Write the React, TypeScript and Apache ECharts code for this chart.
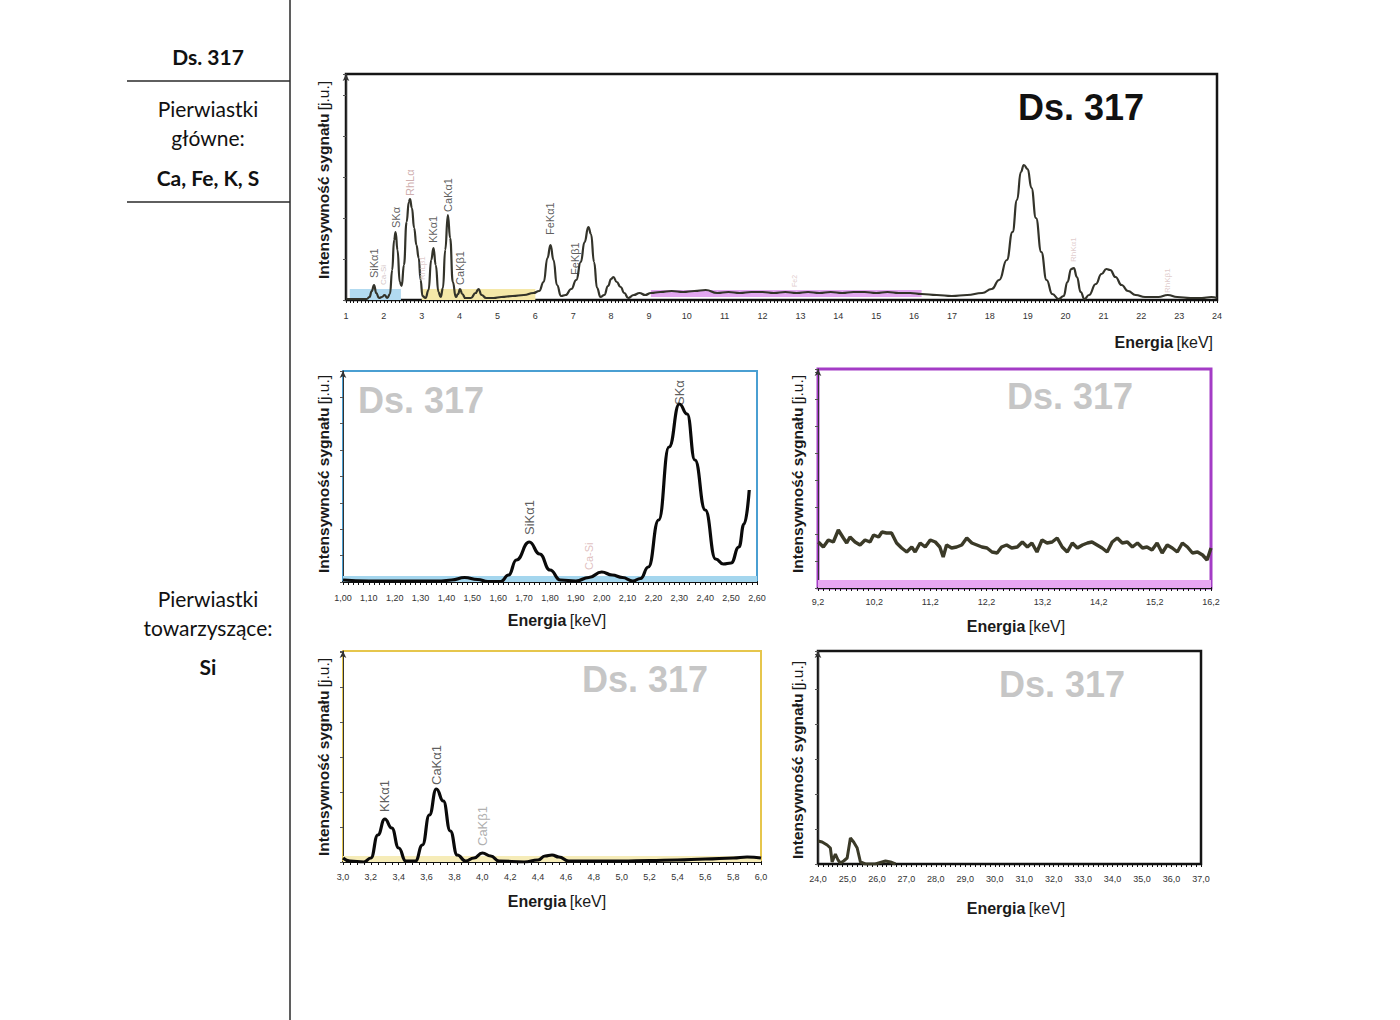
import React, { useEffect, useRef } from "react";
import * as echarts from "echarts";

// ---------- DATA ----------
const mainSpectrum: [number, number][] = [
  [1.0, 1], [1.3, 1], [1.55, 1], [1.62, 3], [1.68, 9], [1.74, 15], [1.8, 7], [1.87, 2], [1.95, 3], [2.02, 5],
  [2.09, 2], [2.16, 6], [2.22, 30], [2.27, 60], [2.31, 68], [2.36, 50], [2.42, 18], [2.47, 14], [2.53, 35],
  [2.6, 78], [2.66, 98], [2.69, 101], [2.74, 92], [2.8, 72], [2.86, 55], [2.92, 42], [2.97, 20], [3.02, 4],
  [3.1, 2], [3.18, 10], [3.25, 40], [3.31, 52], [3.37, 35], [3.44, 8], [3.5, 3], [3.56, 12], [3.62, 50],
  [3.69, 85], [3.75, 62], [3.82, 18], [3.9, 3], [3.96, 6], [4.01, 11], [4.07, 6], [4.15, 2], [4.3, 2],
  [4.42, 7], [4.5, 11], [4.58, 5], [4.7, 2], [4.9, 2], [5.1, 3], [5.4, 4], [5.7, 5], [5.95, 7], [6.1, 9],
  [6.22, 18], [6.32, 42], [6.4, 55], [6.48, 40], [6.57, 15], [6.68, 4], [6.8, 5], [6.95, 11], [7.08, 20],
  [7.2, 38], [7.3, 58], [7.4, 73], [7.47, 66], [7.55, 38], [7.63, 12], [7.72, 3], [7.82, 5], [7.92, 14],
  [8.0, 21], [8.06, 23], [8.15, 18], [8.25, 13], [8.35, 7], [8.45, 2], [8.6, 5], [8.75, 7], [8.9, 5],
  [9.05, 7], [9.3, 8], [9.6, 9], [9.9, 8], [10.2, 9], [10.5, 10], [10.8, 7], [11.1, 8], [11.4, 7], [11.7, 8],
  [12.0, 8], [12.3, 7], [12.6, 8], [12.9, 7], [13.2, 8], [13.5, 7], [13.8, 8], [14.1, 7], [14.4, 8], [14.7, 8],
  [15.0, 7], [15.3, 8], [15.6, 7], [15.9, 7], [16.2, 6], [16.6, 5], [17.0, 4], [17.4, 5], [17.8, 7],
  [18.05, 11], [18.25, 20], [18.45, 40], [18.6, 68], [18.72, 100], [18.82, 128], [18.9, 135], [19.0, 131],
  [19.1, 112], [19.22, 82], [19.36, 48], [19.5, 20], [19.65, 6], [19.82, 1], [19.95, 4], [20.05, 18],
  [20.15, 31], [20.22, 32], [20.3, 23], [20.4, 8], [20.5, 1], [20.62, 5], [20.8, 16], [20.95, 26],
  [21.08, 31], [21.18, 30], [21.32, 23], [21.48, 15], [21.65, 9], [21.85, 5], [22.1, 3], [22.45, 3],
  [22.7, 5], [22.95, 3], [23.3, 2], [23.6, 2], [23.85, 3], [24.0, 2],
];
const mainPeaks: [number, number, string, string, number][] = [
  [1.74, 22, "SiKα1", "#333", 11],
  [2.0, 15, "Ca-Si", "#c9b6b6", 8],
  [2.31, 72, "SKα", "#333", 11],
  [2.69, 104, "RhLα", "#c49a9a", 11],
  [3.02, 20, "RhLβ1", "#d8c0c0", 8],
  [3.31, 57, "KKα1", "#333", 11],
  [3.69, 88, "CaKα1", "#333", 11],
  [4.01, 15, "CaKβ1", "#333", 11],
  [6.4, 65, "FeKα1", "#333", 11],
  [7.05, 25, "FeKβ1", "#333", 11],
  [12.85, 13, "Fe2", "#d8c0c0", 7],
  [20.2, 38, "RhKα1", "#d8c0c0", 8],
  [22.7, 7, "RhKβ1", "#d8c0c0", 8],
];
const mainBands: [number, number, number, number, string][] = [
  [1.1, 2.45, 0, 11, "#b2daf0"],
  [3.0, 6.0, 0, 11, "#f5e8a8"],
  [9.05, 16.2, 3, 10, "#e2a6f0"],
];

const siSpectrum: [number, number][] = [
  [1.0, 2], [1.1, 1], [1.2, 1], [1.3, 1], [1.38, 1], [1.42, 2], [1.47, 4.5], [1.52, 2.5], [1.56, 0.5],
  [1.61, 0.5], [1.64, 7], [1.67, 22], [1.72, 40], [1.76, 28], [1.8, 12], [1.84, 2], [1.9, 1], [1.95, 4.5],
  [2.0, 10], [2.04, 7], [2.08, 4.5], [2.12, 1], [2.15, 3.5], [2.18, 15], [2.22, 62], [2.26, 135], [2.3, 178],
  [2.33, 168], [2.36, 122], [2.4, 72], [2.44, 23], [2.47, 18], [2.5, 19], [2.53, 35], [2.55, 58], [2.57, 92],
];
const siPeaks: [number, number, string, string, number][] = [
  [1.72, 47, "SiKα1", "#333", 13],
  [1.95, 12, "Ca-Si", "#d8b0b0", 11],
  [2.3, 177, "SKα", "#333", 13],
];

const midSpectrum: [number, number][] = [
  [9.206, 46], [9.295, 41], [9.384, 48], [9.473, 46], [9.562, 58], [9.652, 50], [9.711, 45], [9.77, 51],
  [9.86, 46], [9.949, 43], [10.038, 48], [10.127, 46], [10.19, 53], [10.28, 51], [10.34, 56], [10.42, 55],
  [10.51, 55], [10.6, 45], [10.69, 40], [10.78, 36], [10.87, 41], [10.93, 36], [11.02, 45], [11.11, 41],
  [11.2, 48], [11.29, 46], [11.37, 41], [11.43, 31], [11.49, 43], [11.58, 40], [11.67, 41], [11.76, 43],
  [11.85, 50], [11.94, 45], [12.03, 43], [12.12, 41], [12.21, 40], [12.3, 36], [12.39, 35], [12.47, 41],
  [12.56, 43], [12.65, 40], [12.75, 41], [12.84, 46], [12.93, 41], [13.01, 45], [13.1, 36], [13.19, 48],
  [13.28, 45], [13.37, 46], [13.46, 50], [13.55, 41], [13.64, 36], [13.73, 45], [13.82, 40], [13.91, 43],
  [14.0, 45], [14.08, 46], [14.17, 43], [14.26, 40], [14.35, 36], [14.44, 46], [14.53, 50], [14.62, 45],
  [14.71, 46], [14.8, 41], [14.89, 45], [14.98, 40], [15.06, 41], [15.15, 38], [15.24, 45], [15.33, 35],
  [15.42, 43], [15.51, 40], [15.6, 36], [15.69, 45], [15.78, 41], [15.87, 35], [15.96, 36], [16.05, 33],
  [16.13, 28], [16.2, 40],
];

const caSpectrum: [number, number][] = [
  [3.0, 4], [3.05, 1], [3.15, 0], [3.2, 4], [3.25, 27], [3.3, 43], [3.35, 34], [3.4, 14], [3.45, 1],
  [3.52, 1], [3.57, 17], [3.62, 47], [3.67, 73], [3.72, 61], [3.77, 31], [3.82, 7], [3.88, 1], [3.94, 4],
  [4.0, 9], [4.06, 6], [4.12, 1], [4.3, 0], [4.4, 2], [4.45, 6], [4.5, 7], [4.55, 5], [4.62, 1], [4.8, 1],
  [5.0, 1], [5.2, 1.5], [5.4, 2], [5.6, 3], [5.8, 4], [5.9, 5], [6.0, 4],
];
const caPeaks: [number, number, string, string, number][] = [
  [3.3, 50, "KKα1", "#333", 13],
  [3.67, 77, "CaKα1", "#333", 13],
  [4.0, 16, "CaKβ1", "#9a9a9a", 13],
];

const highSpectrum: [number, number][] = [
  [24.0, 23], [24.14, 22], [24.31, 19], [24.42, 16], [24.48, 2], [24.59, 10], [24.68, 4], [24.76, 1],
  [24.87, 3], [24.99, 6], [25.1, 26], [25.21, 22], [25.33, 16], [25.44, 2], [25.61, 0], [25.95, 0],
  [26.06, 1], [26.29, 3], [26.46, 2], [26.63, 0],
];

const sampleName = "Ds. 317";

// ---------- CHART ----------
const FONT = "Liberation Sans, Arial, sans-serif";

function App() {
  const ref = useRef<HTMLDivElement>(null);
  useEffect(() => {
    if (!ref.current) return;
    const chart = echarts.init(ref.current, undefined, { renderer: "svg" });

    const grids = [
      { left: 346, top: 74, width: 871, height: 226, border: "#151515", bw: 2.5 },
      { left: 343, top: 371, width: 414, height: 211, border: "#4a9fd2", bw: 2 },
      { left: 818, top: 369, width: 393, height: 219, border: "#a43cc6", bw: 3 },
      { left: 343, top: 651, width: 418, height: 211, border: "#e6c64c", bw: 2 },
      { left: 818, top: 651, width: 383, height: 213, border: "#151515", bw: 2.5 },
    ];

    const comma = (d: number) => (v: number) => v.toFixed(d).replace(".", ",");
    const xDefs = [
      { min: 1, max: 24, interval: 1, split: 10, fmt: (v: number) => String(Math.round(v)), margin: 11 },
      { min: 1.0, max: 2.6, interval: 0.1, split: 5, fmt: comma(2), margin: 11 },
      {
        min: 9.2, max: 16.2, interval: 0.2, split: 2,
        fmt: (v: number) => ((Math.round(v * 10) - 92) % 10 === 0 ? comma(1)(v) : ""), margin: 9,
      },
      { min: 3.0, max: 6.0, interval: 0.2, split: 4, fmt: comma(1), margin: 10 },
      { min: 24, max: 37, interval: 1, split: 6, fmt: comma(1), margin: 10 },
    ];
    const yDefs = [
      { max: 226, interval: 41 },
      { max: 211, interval: 26.4 },
      { max: 219, interval: 27 },
      { max: 211, interval: 35 },
      { max: 213, interval: 35 },
    ];

    const lineSeries = (i: number, data: [number, number][], color: string, width: number, smooth: any) => ({
      type: "line",
      xAxisIndex: i,
      yAxisIndex: i,
      data,
      showSymbol: false,
      symbol: "none",
      smooth,
      smoothMonotone: "x",
      z: 3,
      lineStyle: { color, width },
    });
    const bandSeries = (i: number, bands: [number, number, number, number, string][]) => ({
      type: "line",
      xAxisIndex: i,
      yAxisIndex: i,
      data: [[bands[0][0], 0]],
      showSymbol: false,
      symbol: "none",
      lineStyle: { width: 0, opacity: 0 },
      z: 1,
      silent: true,
      markArea: {
        silent: true,
        data: bands.map((b) => [
          { xAxis: b[0], yAxis: b[2], itemStyle: { color: b[4], opacity: 1 } },
          { xAxis: b[1], yAxis: b[3] },
        ]),
      },
    });
    const labelSeries = (i: number, peaks: [number, number, string, string, number][]) => ({
      type: "scatter",
      xAxisIndex: i,
      yAxisIndex: i,
      symbolSize: 0,
      z: 5,
      silent: true,
      data: peaks.map((p) => ({
        value: [p[0], p[1]],
        name: p[2],
        label: { color: p[3], fontSize: p[4] },
      })),
      label: {
        show: true,
        formatter: "{b}",
        position: "top",
        distance: 0,
        rotate: 90,
        align: "left",
        verticalAlign: "middle",
        fontFamily: FONT,
      },
    });

    const series: any[] = [
      bandSeries(0, mainBands),
      lineSeries(0, mainSpectrum, "#33332a", 2.2, 0.5),
      labelSeries(0, mainPeaks),
      bandSeries(1, [[1.0, 2.6, 0, 6, "#a4d6ee"]]),
      lineSeries(1, siSpectrum, "#0a0a0a", 3.2, 0.5),
      labelSeries(1, siPeaks),
      bandSeries(2, [[9.2, 16.2, 0, 8, "#e8a6f2"]]),
      lineSeries(2, midSpectrum, "#3b3a28", 3.4, false),
      bandSeries(3, [[3.0, 6.0, 0, 6, "#f6ecb8"]]),
      lineSeries(3, caSpectrum, "#0a0a0a", 3.2, 0.5),
      labelSeries(3, caPeaks),
      lineSeries(4, highSpectrum, "#3b3a28", 3, false),
    ];

    const energia = (x: number, y: number, align: string) => ({
      type: "text",
      x,
      y,
      z: 10,
      style: {
        text: "{b|Energia} {r|[keV]}",
        align,
        verticalAlign: "middle",
        rich: {
          b: { fontFamily: FONT, fontWeight: "bold", fontSize: 16, fill: "#1a1a1a" },
          r: { fontFamily: FONT, fontSize: 16, fill: "#1a1a1a" },
        },
      },
    });
    const yName = (x: number, y: number) => ({
      type: "text",
      x,
      y,
      rotation: Math.PI / 2,
      z: 10,
      style: {
        text: "{b|Intensywność sygnału} {r|[j.u.]}",
        align: "center",
        verticalAlign: "middle",
        rich: {
          b: { fontFamily: FONT, fontWeight: "bold", fontSize: 15.5, fill: "#1a1a1a" },
          r: { fontFamily: FONT, fontSize: 15.5, fill: "#1a1a1a" },
        },
      },
    });
    const stamp = (x: number, y: number, color: string) => ({
      type: "text",
      x,
      y,
      z: 10,
      style: {
        text: sampleName,
        fontFamily: FONT,
        fontWeight: "bold",
        fontSize: 36,
        fill: color,
        align: "center",
        verticalAlign: "middle",
      },
    });
    const tableText = (x: number, y: number, text: string, bold: boolean) => ({
      type: "text",
      x,
      y,
      style: {
        text,
        fontFamily: "Lato, Noto Sans, sans-serif",
        fontWeight: bold ? "bold" : "normal",
        fontSize: 21,
        fill: "#111",
        align: "center",
        verticalAlign: "middle",
      },
    });
    const hline = (x1: number, y1: number, x2: number, y2: number) => ({
      type: "line",
      shape: { x1, y1, x2, y2 },
      style: { stroke: "#2a2a2a", lineWidth: 1.5 },
    });

    const option: any = {
      animation: false,
      backgroundColor: "#ffffff",
      grid: grids.map((g) => ({
        left: g.left,
        top: g.top,
        width: g.width,
        height: g.height,
        show: true,
        borderColor: g.border,
        borderWidth: g.bw,
        backgroundColor: "transparent",
        containLabel: false,
      })),
      xAxis: xDefs.map((d, i) => ({
        type: "value",
        gridIndex: i,
        min: d.min,
        max: d.max,
        interval: d.interval,
        axisLine: { show: true, onZero: false, lineStyle: { color: "#111", width: 2 } },
        axisTick: { show: true, length: 3, lineStyle: { color: "#111", width: 1 } },
        minorTick: { show: true, splitNumber: d.split, length: 3, lineStyle: { color: "#111", width: 1 } },
        splitLine: { show: false },
        minorSplitLine: { show: false },
        axisLabel: {
          show: true,
          formatter: d.fmt,
          fontSize: 9,
          color: "#333",
          margin: d.margin,
          fontFamily: FONT,
          showMinLabel: true,
          showMaxLabel: true,
        },
      })),
      yAxis: yDefs.map((d, i) => ({
        type: "value",
        gridIndex: i,
        min: 0,
        max: d.max,
        interval: d.interval,
        axisLine: {
          show: true,
          onZero: false,
          symbol: ["none", "arrow"],
          symbolSize: [5, 7],
          lineStyle: { color: "#333", width: 1 },
        },
        axisTick: { show: true, length: 3, lineStyle: { color: "#555" } },
        axisLabel: { show: false },
        splitLine: { show: false },
      })),
      series,
      graphic: [
        hline(290, 0, 290, 1020),
        hline(127, 81, 290, 81),
        hline(127, 202, 290, 202),
        tableText(208, 56, sampleName, true),
        tableText(208, 108, "Pierwiastki", false),
        tableText(208, 137, "główne:", false),
        tableText(208, 177, "Ca, Fe, K, S", true),
        tableText(208, 598, "Pierwiastki", false),
        tableText(208, 627, "towarzyszące:", false),
        tableText(208, 666, "Si", true),
        stamp(1081, 107, "#111"),
        stamp(421, 400, "#c6c6c6"),
        stamp(1070, 396, "#c6c6c6"),
        stamp(645, 679, "#c6c6c6"),
        stamp(1062, 684, "#c6c6c6"),
        yName(323, 180),
        yName(323, 474),
        yName(797, 474),
        yName(323, 757),
        yName(797, 760),
        energia(1213, 342, "right"),
        energia(557, 620, "center"),
        energia(1016, 626, "center"),
        energia(557, 901, "center"),
        energia(1016, 908, "center"),
      ],
    };
    chart.setOption(option);
    return () => chart.dispose();
  }, []);

  return (
    <div
      ref={ref}
      style={{ position: "fixed", left: 0, top: 0, width: 1400, height: 1020, background: "#fff" }}
    />
  );
}

export default App;
